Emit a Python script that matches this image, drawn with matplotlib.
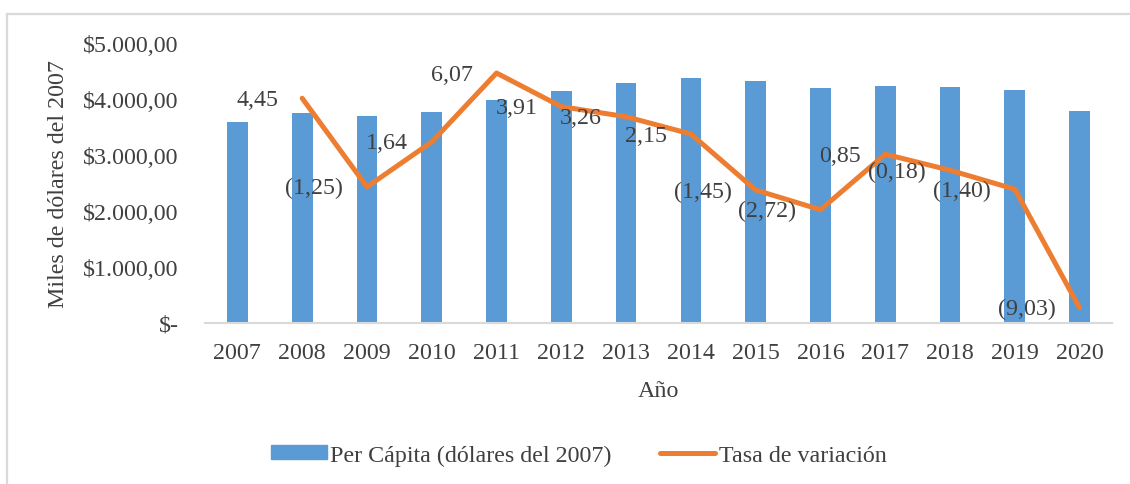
import matplotlib.pyplot as plt
from matplotlib.lines import Line2D
from matplotlib.patches import Patch
from matplotlib.ticker import FuncFormatter

# Data
years = ["2007", "2008", "2009", "2010", "2011", "2012", "2013",
         "2014", "2015", "2016", "2017", "2018", "2019", "2020"]
per_capita = [3590, 3750, 3700, 3765, 3985, 4145, 4285,
              4375, 4320, 4195, 4230, 4215, 4160, 3790]
tasa_years = years[1:]
tasa = [4.45, -1.25, 1.64, 6.07, 3.91, 3.26, 2.15,
        -1.45, -2.72, 0.85, -0.18, -1.40, -9.03]
tasa_labels = ["4,45", "(1,25)", "1,64", "6,07", "3,91", "3,26", "2,15",
               "(1,45)", "(2,72)", "0,85", "(0,18)", "(1,40)", "(9,03)"]

blue = "#5B9BD5"
orange = "#ED7D31"
txt = "#404040"
fs = 17.3

plt.rcParams['font.family'] = ['Liberation Serif', 'DejaVu Serif']

fig = plt.figure(figsize=(11.3, 4.85), dpi=100)
W, H = 1130, 485
ax = fig.add_axes([205 / W, 1 - 324 / H, (1112 - 205) / W, (324 - 44) / H])

x = list(range(len(years)))
ax.bar(x, per_capita, width=0.32, color=blue, zorder=2)
ax.set_xlim(-0.5, len(years) - 0.5)
ax.set_ylim(0, 5000)
ax.set_yticks([0, 1000, 2000, 3000, 4000, 5000])


def money(v, pos):
    if v == 0:
        return "$-"
    s = f"{v:,.2f}".replace(",", "X").replace(".", ",").replace("X", ".")
    return "$" + s


ax.yaxis.set_major_formatter(FuncFormatter(money))
ax.set_xticks(x)
ax.set_xticklabels(years)
ax.tick_params(axis='both', length=0, labelsize=fs, labelcolor=txt)
ax.tick_params(axis='y', pad=19)
ax.tick_params(axis='x', pad=14)
for s in ["top", "right", "left"]:
    ax.spines[s].set_visible(False)
ax.spines["bottom"].set_color("#d9d9d9")
ax.spines["bottom"].set_linewidth(1.5)

ax.set_ylabel("Miles de dólares del 2007", fontsize=fs, color=txt, labelpad=10)
ax.set_xlabel("Año", fontsize=fs, color=txt, labelpad=12)

# secondary axis for growth rate
ax2 = ax.twinx()
ax2.set_ylim(-10, 8)
ax2.axis("off")
xt = [years.index(y) for y in tasa_years]
ax2.plot(xt, tasa, color=orange, lw=3.6, solid_joinstyle="round",
         solid_capstyle="round", zorder=3)
for xi, v, lab in zip(xt, tasa, tasa_labels):
    ax2.annotate(lab, (xi, v), xytext=(-24, -1), textcoords="offset pixels",
                 ha="right", va="center", fontsize=fs, color=txt, zorder=4)

# legend
handles = [Patch(color=blue), Line2D([], [], color=orange, lw=3.6, solid_capstyle="round")]
fig.legend(handles, ["Per Cápita (dólares del 2007)", "Tasa de variación"],
           loc="center", bbox_to_anchor=(579 / W, 1 - 456 / H), ncol=2,
           frameon=False, fontsize=fs, labelcolor=txt, handlelength=2.3,
           handleheight=0.5, handletextpad=0.15, columnspacing=2.0)

# chart border (top and left visible)
bc = "#d9d9d9"
fig.add_artist(Line2D([7 / W, 1], [1 - 15 / H, 1 - 15 / H], color=bc, lw=1.6))
fig.add_artist(Line2D([7 / W, 7 / W], [0, 1 - 15 / H], color=bc, lw=1.6))

fig.savefig("out.png", dpi=100, facecolor="white")
